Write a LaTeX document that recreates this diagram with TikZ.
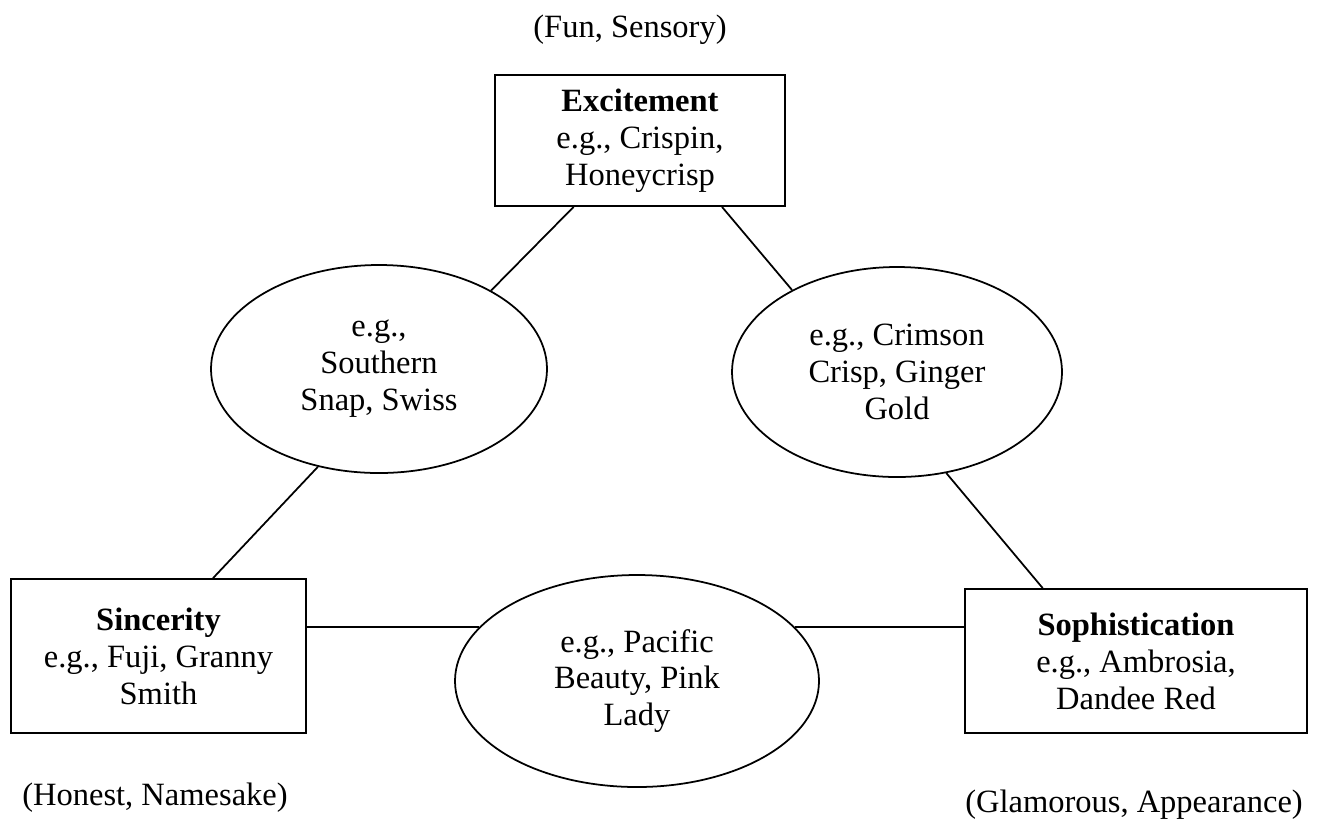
\documentclass[tikz,border=0pt]{standalone}
\usepackage{fontspec}
\setmainfont{Liberation Serif}
\usetikzlibrary{shapes.geometric}
\tikzset{
  TraitBox/.style={draw, line width=1pt, rectangle, inner sep=0pt, align=center,
    font=\fontsize{18.5}{21}\selectfont},
  MixOval/.style={draw, line width=1pt, ellipse, inner sep=0pt, align=center,
    font=\fontsize{18.5}{21}\selectfont},
  note/.style={font=\fontsize{18.5}{21}\selectfont},
  link/.style={line width=1pt}
}
\begin{document}
\begin{tikzpicture}[x=0.02cm, y=-0.02cm]
    \useasboundingbox (0,0) rectangle (1317,826);
    \node[TraitBox, minimum width=290*0.02cm, minimum height=131*0.02cm] (excite) at (640,140.5)
      {\textbf{Excitement}\\e.g., Crispin,\\Honeycrisp};
    \node[TraitBox, minimum width=295*0.02cm, minimum height=154*0.02cm] (sinc) at (158.5,656)
      {\textbf{Sincerity}\\e.g., Fuji, Granny\\Smith};
    \node[TraitBox, minimum width=342*0.02cm, minimum height=144*0.02cm] (soph) at (1136,661)
      {\textbf{Sophistication}\\e.g., Ambrosia,\\Dandee Red};
    \node[MixOval, minimum width=336*0.02cm, minimum height=208*0.02cm] (lell) at (379,369)
      {e.g.,\\Southern\\Snap, Swiss};
    \node[MixOval, minimum width=330*0.02cm, minimum height=210*0.02cm] (rell) at (897,372)
      {e.g., Crimson\\Crisp, Ginger\\Gold};
    \node[MixOval, minimum width=364*0.02cm, minimum height=212*0.02cm] (bell) at (637,681)
      {e.g., Pacific\\Beauty, Pink\\Lady};
    \node[note] (fun) at (630,30) {(Fun, Sensory)};
    \node[note] (honest) at (155,798) {(Honest, Namesake)};
    \node[note] (glam) at (1134,805) {(Glamorous, Appearance)};
    \draw[link] (excite.-135) -- (lell.35);
    \draw[link] (excite.-39) -- (rell.142);
    \draw[link] (lell.238) -- (sinc.55);
    \draw[link] (rell.-64) -- (soph.142);
    \draw[link] (bell.161) -- (bell.161 -| sinc.east);
    \draw[link] (bell.19) -- (bell.19 -| soph.west);
  \end{tikzpicture}
\end{document}
